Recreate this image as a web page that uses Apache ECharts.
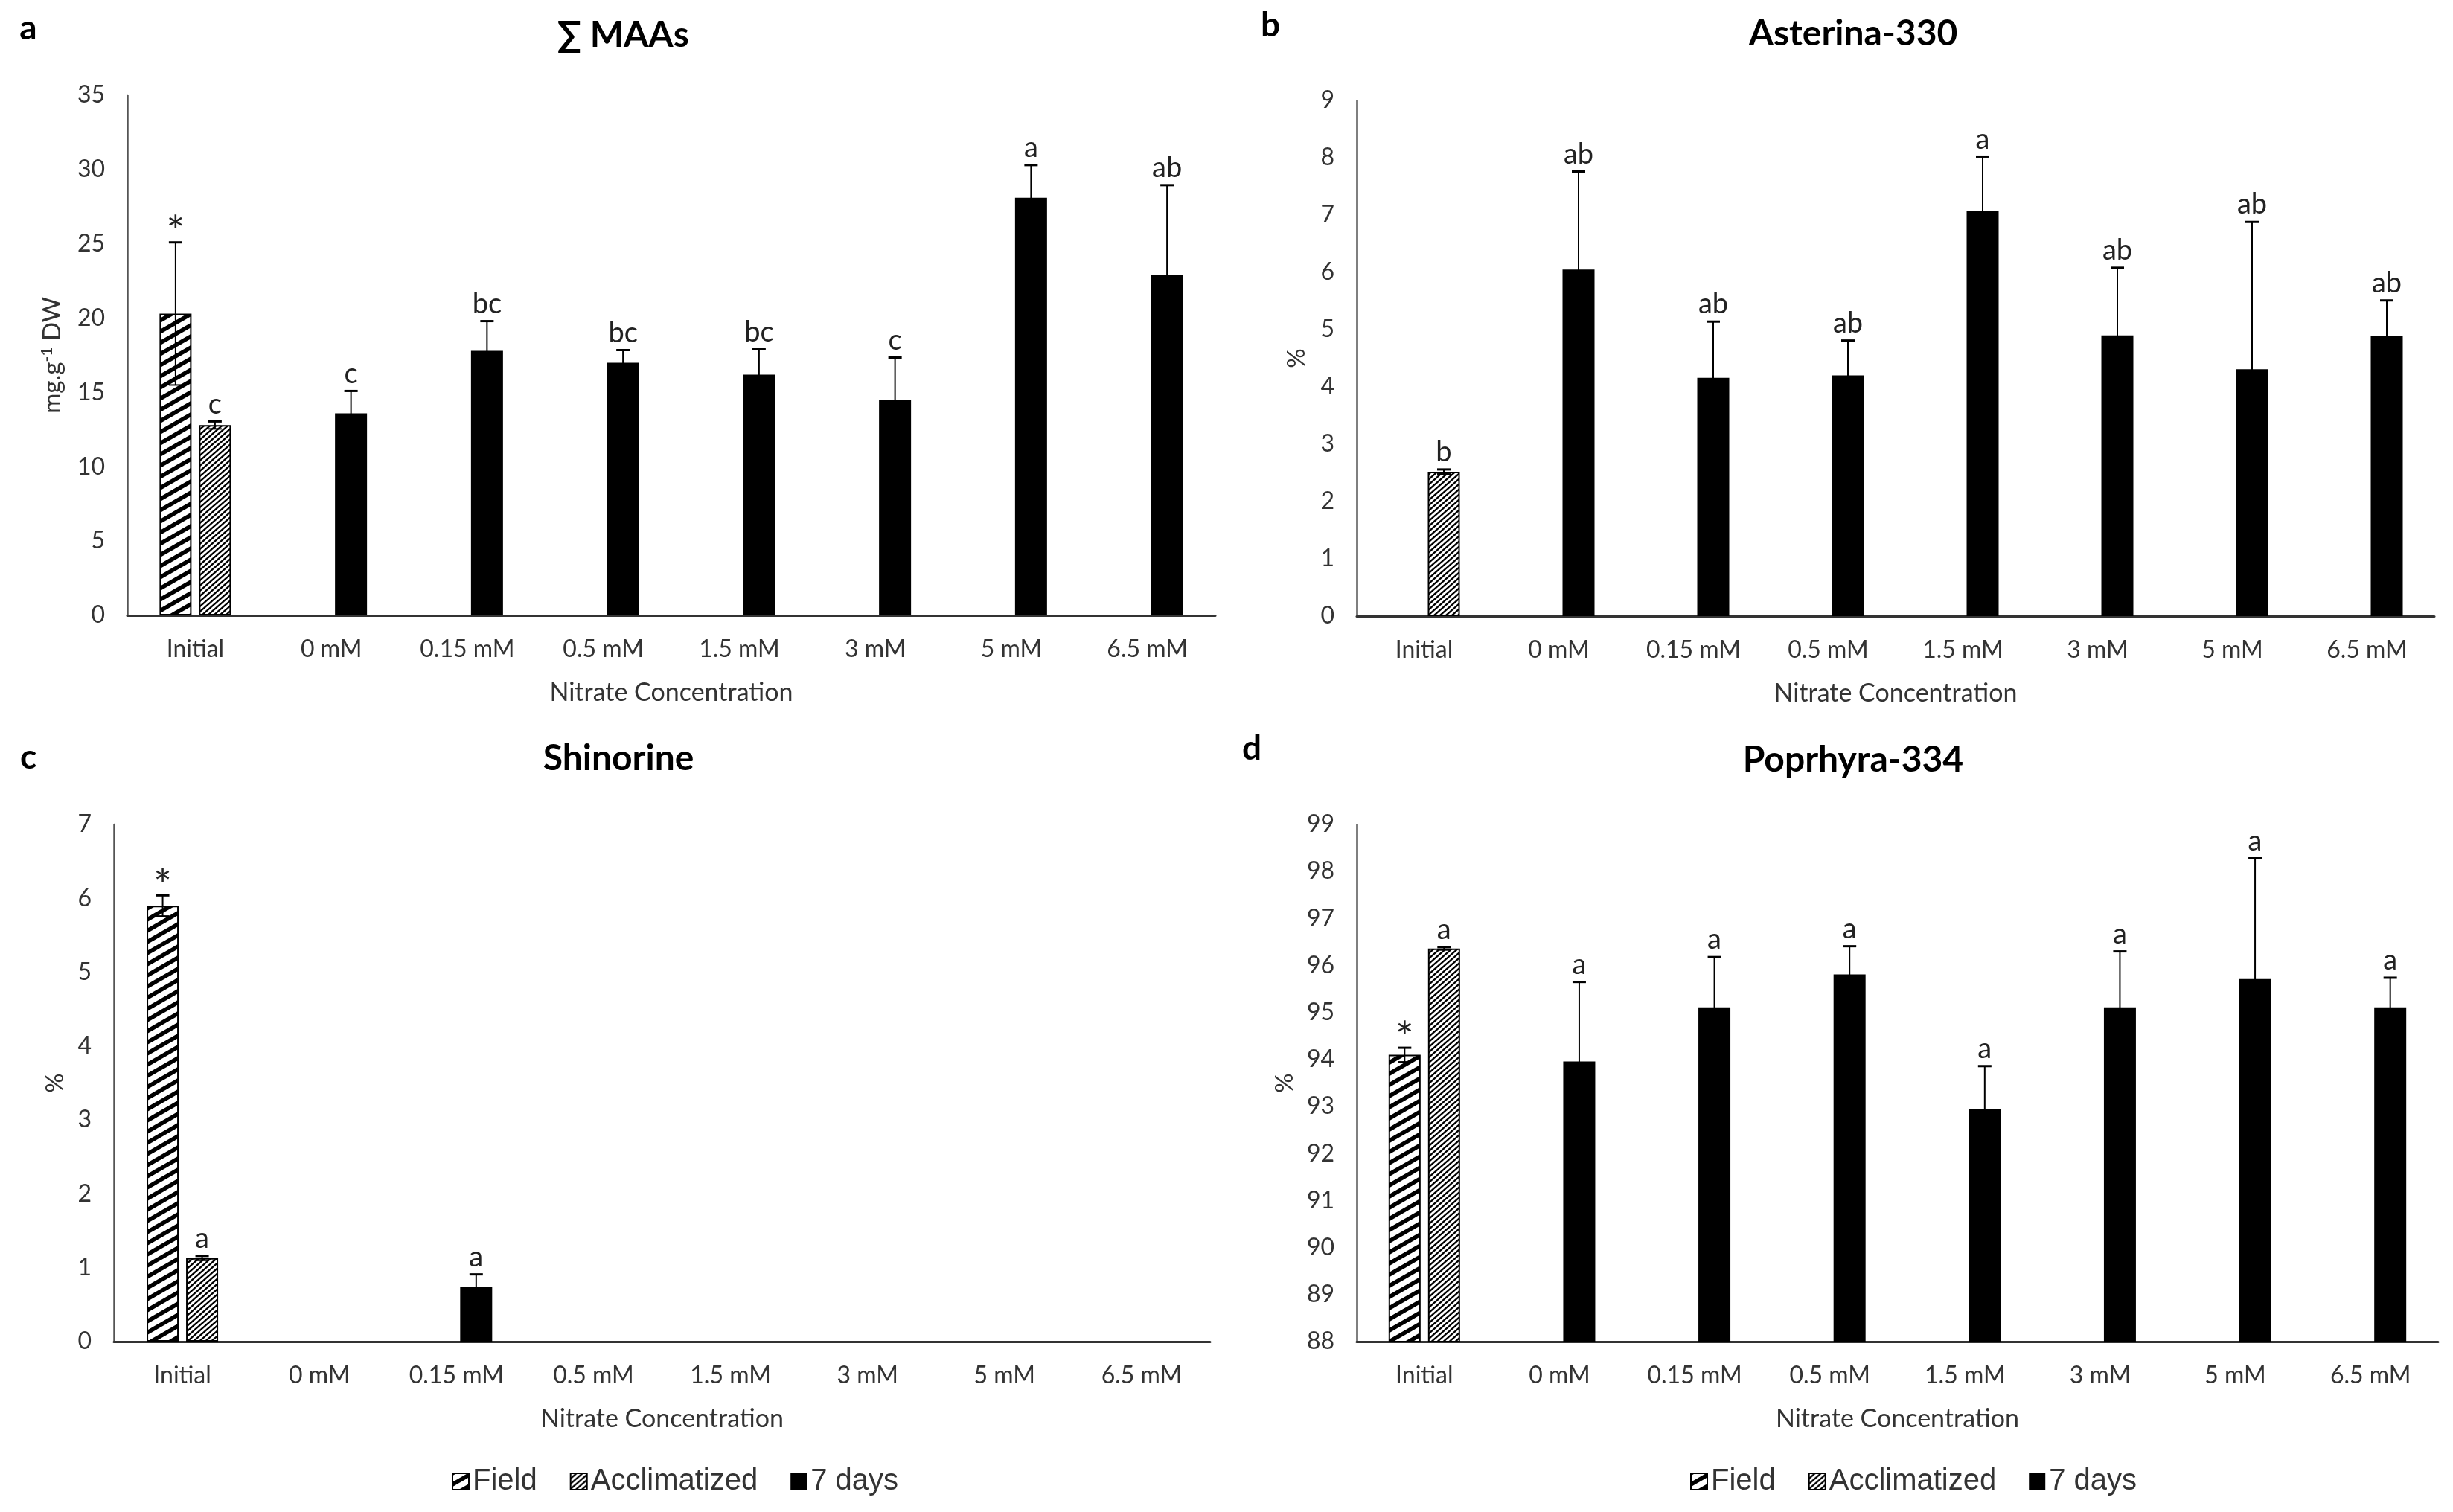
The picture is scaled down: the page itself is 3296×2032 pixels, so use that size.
<!DOCTYPE html>
<html style="height: 100%">
<head>
    <meta charset="utf-8">
    <script src="https://cdn.jsdelivr.net/npm/echarts@6/dist/echarts.min.js"></script>
    <style>
        body { margin: 0; background: #fff; }
        #container { width: 3296px; height: 2032px; }
    </style>
</head>
<body>
<div id="container"></div>
<script type="text/javascript">
    // categories of the x axis (same for every panel)
    var categories = ['Initial', '0 mM', '0.15 mM', '0.5 mM', '1.5 mM', '3 mM', '5 mM', '6.5 mM'];
    var legendNames = ['Field', 'Acclimatized', '7 days'];

    // a - sum of MAAs (mg.g-1 DW)
    var maasField = [20.3, null, null, null, null, null, null, null];
    var maasFieldErr = [4.8, null, null, null, null, null, null, null];
    var maasFieldLetters = ['*', '', '', '', '', '', '', ''];
    var maasAccl = [12.8, null, null, null, null, null, null, null];
    var maasAcclErr = [0.25, null, null, null, null, null, null, null];
    var maasAcclLetters = ['c', '', '', '', '', '', '', ''];
    var maasDays = [null, 13.6, 17.8, 17.0, 16.2, 14.5, 28.1, 22.9];
    var maasDaysErr = [null, 1.5, 2.0, 0.85, 1.7, 2.85, 2.2, 6.05];
    var maasDaysLetters = ['', 'c', 'bc', 'bc', 'bc', 'c', 'a', 'ab'];

    // b - Asterina-330 (%)
    var astField = [null, null, null, null, null, null, null, null];
    var astFieldErr = [null, null, null, null, null, null, null, null];
    var astFieldLetters = ['', '', '', '', '', '', '', ''];
    var astAccl = [2.52, null, null, null, null, null, null, null];
    var astAcclErr = [0.04, null, null, null, null, null, null, null];
    var astAcclLetters = ['b', '', '', '', '', '', '', ''];
    var astDays = [null, 6.05, 4.16, 4.2, 7.07, 4.9, 4.31, 4.89];
    var astDaysErr = [null, 1.71, 0.98, 0.61, 0.95, 1.18, 2.57, 0.62];
    var astDaysLetters = ['', 'ab', 'ab', 'ab', 'a', 'ab', 'ab', 'ab'];

    // c - Shinorine (%)
    var shiField = [5.9, null, null, null, null, null, null, null];
    var shiFieldErr = [0.14, null, null, null, null, null, null, null];
    var shiFieldLetters = ['*', '', '', '', '', '', '', ''];
    var shiAccl = [1.13, null, null, null, null, null, null, null];
    var shiAcclErr = [0.03, null, null, null, null, null, null, null];
    var shiAcclLetters = ['a', '', '', '', '', '', '', ''];
    var shiDays = [null, 0, 0.74, 0, 0, 0, 0, 0];
    var shiDaysErr = [null, null, 0.17, null, null, null, null, null];
    var shiDaysLetters = ['', '', 'a', '', '', '', '', ''];

    // d - Poprhyra-334 (%)
    var porField = [94.1, null, null, null, null, null, null, null];
    var porFieldErr = [0.15, null, null, null, null, null, null, null];
    var porFieldLetters = ['*', '', '', '', '', '', '', ''];
    var porAccl = [96.36, null, null, null, null, null, null, null];
    var porAcclErr = [0.03, null, null, null, null, null, null, null];
    var porAcclLetters = ['a', '', '', '', '', '', '', ''];
    var porDays = [null, 93.96, 95.11, 95.81, 92.94, 95.11, 95.71, 95.11];
    var porDaysErr = [null, 1.69, 1.07, 0.6, 0.92, 1.19, 2.57, 0.63];
    var porDaysLetters = ['', 'a', 'a', 'a', 'a', 'a', 'a', 'a'];

    var txtFont = 'Lato';
    var barW = 43;
    var gapPx = 10;
    var off = (barW + gapPx) / 2;

    function hatch(w, h, lw) {
        var c = document.createElement('canvas');
        c.width = w; c.height = h;
        var ctx = c.getContext('2d');
        ctx.fillStyle = '#fff';
        ctx.fillRect(0, 0, w, h);
        ctx.strokeStyle = '#000';
        ctx.lineWidth = lw;
        for (var k = -2; k <= 2; k++) {
            ctx.beginPath();
            ctx.moveTo(-w, (2 + k) * h);
            ctx.lineTo(2 * w, (k - 1) * h);
            ctx.stroke();
        }
        return c;
    }
    var fieldStyle = { color: { image: hatch(26, 15, 5.5), repeat: 'repeat' }, borderColor: '#000', borderWidth: 2 };
    var acclStyle = { color: { image: hatch(8, 7, 2.4), repeat: 'repeat' }, borderColor: '#000', borderWidth: 2 };
    var daysStyle = { color: '#000' };

    var panels = [
        { letter: 'a', title: '∑ MAAs', lx: 38, ly: 38, tx: 837, ty: 48,
          grid: { left: 171, right: 1663, top: 128, bottom: 1205 },
          min: 0, max: 35, interval: 5, yName: 'mg.g{sup|-1} DW', yGap: 84,
          field: maasField, fieldErr: maasFieldErr, fieldLetters: maasFieldLetters,
          accl: maasAccl, acclErr: maasAcclErr, acclLetters: maasAcclLetters,
          days: maasDays, daysErr: maasDaysErr, daysLetters: maasDaysLetters },
        { letter: 'b', title: 'Asterina-330', lx: 1707, ly: 34, tx: 2490, ty: 46,
          grid: { left: 1823, right: 25, top: 135, bottom: 1204 },
          min: 0, max: 9, interval: 1, yName: '%', yGap: 64,
          field: astField, fieldErr: astFieldErr, fieldLetters: astFieldLetters,
          accl: astAccl, acclErr: astAcclErr, acclLetters: astAcclLetters,
          days: astDays, daysErr: astDaysErr, daysLetters: astDaysLetters },
        { letter: 'c', title: 'Shinorine', lx: 38, ly: 1018, tx: 831, ty: 1020,
          grid: { left: 153, right: 1670, top: 1108, bottom: 229 },
          min: 0, max: 7, interval: 1, yName: '%', yGap: 62,
          field: shiField, fieldErr: shiFieldErr, fieldLetters: shiFieldLetters,
          accl: shiAccl, acclErr: shiAcclErr, acclLetters: shiAcclLetters,
          days: shiDays, daysErr: shiDaysErr, daysLetters: shiDaysLetters },
        { letter: 'd', title: 'Poprhyra-334', lx: 1682, ly: 1006, tx: 2490, ty: 1022,
          grid: { left: 1823, right: 20, top: 1108, bottom: 229 },
          min: 88, max: 99, interval: 1, yName: '%', yGap: 80,
          field: porField, fieldErr: porFieldErr, fieldLetters: porFieldLetters,
          accl: porAccl, acclErr: porAcclErr, acclLetters: porAcclLetters,
          days: porDays, daysErr: porDaysErr, daysLetters: porDaysLetters }
    ];

    function errorSeries(vals, errs, letters, shift, xIdx, yIdx) {
        var data = [];
        for (var i = 0; i < vals.length; i++) {
            data.push([i, vals[i] == null ? '-' : vals[i], errs[i] == null ? 0 : errs[i]]);
        }
        return {
            type: 'custom',
            xAxisIndex: xIdx,
            yAxisIndex: yIdx,
            z: 5,
            silent: true,
            encode: { x: 0, y: 1 },
            data: data,
            renderItem: function (params, api) {
                var idx = params.dataIndex;
                var v = api.value(1);
                if (vals[idx] == null) return;
                var e = errs[idx];
                var x = api.coord([api.value(0), v])[0] + shift;
                var yBar = api.coord([api.value(0), v])[1];
                var children = [];
                var topY = yBar;
                if (e != null) {
                    topY = api.coord([api.value(0), v + e])[1];
                    var botY = api.coord([api.value(0), v - e])[1];
                    var ls = { stroke: '#000', lineWidth: 2 };
                    children.push({ type: 'line', shape: { x1: x, y1: topY, x2: x, y2: botY }, style: ls });
                    children.push({ type: 'line', shape: { x1: x - 9, y1: topY, x2: x + 9, y2: topY }, style: { stroke: '#000', lineWidth: 3 } });
                    children.push({ type: 'line', shape: { x1: x - 9, y1: botY, x2: x + 9, y2: botY }, style: ls });
                }
                if (letters[idx]) {
                    var star = letters[idx] === '*';
                    children.push({
                        type: 'text',
                        style: {
                            text: letters[idx], x: x, y: star ? topY + 17 : topY - 4,
                            align: 'center', verticalAlign: 'bottom',
                            fontFamily: txtFont, fontSize: star ? 58 : 38, fill: '#222'
                        }
                    });
                }
                return { type: 'group', children: children };
            }
        };
    }

    var grids = [], xAxes = [], yAxes = [], series = [], graphics = [];
    panels.forEach(function (p, k) {
        grids.push(p.grid);
        xAxes.push({
            type: 'category', gridIndex: k, data: categories,
            name: 'Nitrate Concentration', nameLocation: 'middle', nameGap: 87,
            nameTextStyle: { fontFamily: txtFont, fontSize: 34, color: '#333' },
            axisLine: { onZero: false, lineStyle: { color: '#333', width: 3 } },
            axisTick: { show: false },
            axisLabel: { fontFamily: txtFont, fontSize: 32, color: '#333', margin: 30, interval: 0 }
        });
        xAxes.push({ type: 'category', gridIndex: k, data: categories, show: false });
        yAxes.push({
            type: 'value', gridIndex: k, min: p.min, max: p.max, interval: p.interval,
            name: p.yName, nameLocation: 'middle', nameRotate: 90, nameGap: p.yGap,
            nameTextStyle: {
                fontFamily: txtFont, fontSize: 33, color: '#333',
                rich: { sup: { fontFamily: txtFont, fontSize: 21, color: '#333', verticalAlign: 'top', padding: [0, 0, 13, 0] } }
            },
            axisLine: { show: true, lineStyle: { color: '#555', width: 2.5 } },
            axisTick: { show: false },
            splitLine: { show: false },
            axisLabel: { fontFamily: txtFont, fontSize: 32, color: '#333', margin: 30 }
        });
        var xa = 2 * k, xb = 2 * k + 1;
        series.push({ name: 'Field', type: 'bar', xAxisIndex: xa, yAxisIndex: k, data: p.field,
            barWidth: barW, barGap: (gapPx / barW * 100) + '%', itemStyle: fieldStyle, silent: true });
        series.push({ name: 'Acclimatized', type: 'bar', xAxisIndex: xa, yAxisIndex: k, data: p.accl,
            barWidth: barW, barGap: (gapPx / barW * 100) + '%', itemStyle: acclStyle, silent: true });
        // empty slot so the 7 days bars sit in the same place as Acclimatized
        series.push({ name: 'slot', type: 'bar', xAxisIndex: xb, yAxisIndex: k,
            data: categories.map(function () { return null; }),
            barWidth: barW, barGap: (gapPx / barW * 100) + '%', silent: true });
        series.push({ name: '7 days', type: 'bar', xAxisIndex: xb, yAxisIndex: k, data: p.days,
            barWidth: barW, barGap: (gapPx / barW * 100) + '%', itemStyle: daysStyle, silent: true });
        series.push(errorSeries(p.field, p.fieldErr, p.fieldLetters, -off, xa, k));
        series.push(errorSeries(p.accl, p.acclErr, p.acclLetters, off, xa, k));
        series.push(errorSeries(p.days, p.daysErr, p.daysLetters, off, xa, k));

        graphics.push({ type: 'text', x: p.lx, y: p.ly,
            style: { text: p.letter, align: 'center', verticalAlign: 'middle',
                fontFamily: txtFont, fontSize: 46, fontWeight: 'bold', fill: '#000' } });
        graphics.push({ type: 'text', x: p.tx, y: p.ty,
            style: { text: p.title, align: 'center', verticalAlign: 'middle',
                fontFamily: txtFont, fontSize: 48, fontWeight: 'bold', fill: '#000' } });
    });

    var legendBase = {
        data: legendNames, icon: 'rect', itemWidth: 22, itemHeight: 22, itemGap: 44,
        selectedMode: false,
        textStyle: { fontFamily: 'Liberation Sans', fontSize: 40, color: '#333' }
    };

    var dom = document.getElementById('container');
    var myChart = echarts.init(dom);
    var option = {
        backgroundColor: '#fff',
        animation: false,
        grid: grids,
        xAxis: xAxes,
        yAxis: yAxes,
        legend: [
            Object.assign({}, legendBase, { left: 602, top: 1966 }),
            Object.assign({}, legendBase, { left: 2266, top: 1966 })
        ],
        graphic: graphics,
        series: series
    };
    myChart.setOption(option, true);
</script>
</body>
</html>
